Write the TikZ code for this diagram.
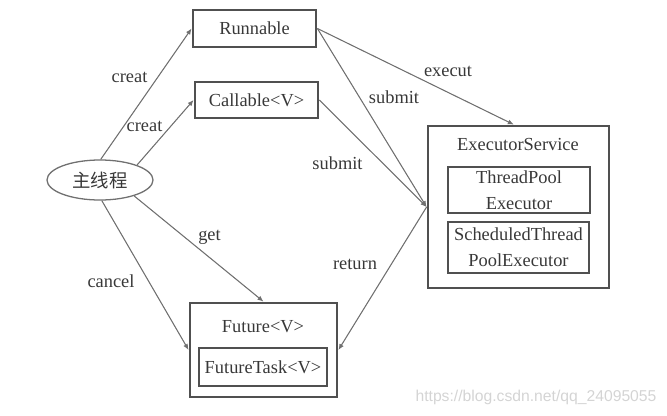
\documentclass[tikz,border=0pt]{standalone}
\usepackage{fontspec}
\setmainfont{Liberation Serif}
\newfontfamily\cjkfont{Noto Sans CJK SC}
\newfontfamily\urlfont{Liberation Sans}
\usetikzlibrary{shapes.geometric,arrows.meta}
\definecolor{boxgray}{HTML}{505050}
\definecolor{linegray}{HTML}{707070}
\definecolor{txtgray}{HTML}{383838}
\definecolor{markgray}{HTML}{D4D4D4}

\begin{document}
\begin{tikzpicture}[x=0.03cm,y=-0.03cm,
box/.style={draw=boxgray,line width=2.4pt,align=center,inner sep=0pt,text=txtgray,font=\fontsize{15.7}{22}\selectfont},
inbox/.style={draw=boxgray,line width=1.6pt,align=center,inner sep=0pt,text=txtgray,font=\fontsize{15.7}{22}\selectfont},
txt/.style={inner sep=0pt,text=txtgray,font=\fontsize{15.7}{22}\selectfont},
arrow/.style={-{Latex[length=1.8mm,width=1.5mm]},draw=linegray,fill=linegray,line width=0.9pt}]
\useasboundingbox (0,0) rectangle (667,415);
% classes and thread
\node[ellipse,draw=linegray,line width=1.1pt,minimum width=3.18cm,minimum height=1.2cm,inner sep=0pt,text=txtgray,font=\cjkfont\fontsize{15.7}{22}\selectfont](main) at (100,180){主线程};
\node[box,minimum width=3.69cm,minimum height=1.11cm](run) at (254.5,28.5){Runnable};
\node[box,minimum width=3.69cm,minimum height=1.08cm](call) at (256.5,100){Callable<V>};
% executor service
\node[box,minimum width=5.43cm,minimum height=4.86cm](es) at (518.5,207){};
\node[txt](estitle) at (518,144){ExecutorService};
\node[inbox,minimum width=4.26cm,minimum height=1.38cm](tpe) at (519,190){ThreadPool\\Executor};
\node[inbox,minimum width=4.23cm,minimum height=1.53cm](stpe) at (518.5,247.5){ScheduledThread\\PoolExecutor};
% future
\node[box,minimum width=4.41cm,minimum height=2.82cm](fut) at (263.5,350){};
\node[txt](futtitle) at (263,327){Future<V>};
\node[inbox,minimum width=3.84cm,minimum height=1.14cm](ftask) at (263,367){FutureTask<V>};
% connectors
\draw[arrow](main.88)--(run.west);
\draw[arrow](main.22)--(call.west);
\draw[arrow](main.-25)--(fut.north);
\draw[arrow](main.-85)--(fut.west);
\draw[arrow](run.east)--([xshift=-4]es.north);
\draw[arrow](run.east)--(es.west);
\draw[arrow](call.east)--(es.west);
\draw[arrow](es.west)--(fut.east);
% labels
\node[txt](lc1) at (129.5,77){creat};
\node[txt](lc2) at (144.5,126){creat};
\node[txt](lex) at (448,71){execut};
\node[txt](ls1) at (394,97){submit};
\node[txt](ls2) at (337.5,163){submit};
\node[txt](lret) at (355,264){return};
\node[txt](lget) at (209.5,237){get};
\node[txt](lcan) at (111,281){cancel};
\node[inner sep=0pt,text=markgray,font=\urlfont\fontsize{13.4}{16}\selectfont](mark) at (536,397){https://blog.csdn.net/qq\_24095055};
\end{tikzpicture}
\end{document}
